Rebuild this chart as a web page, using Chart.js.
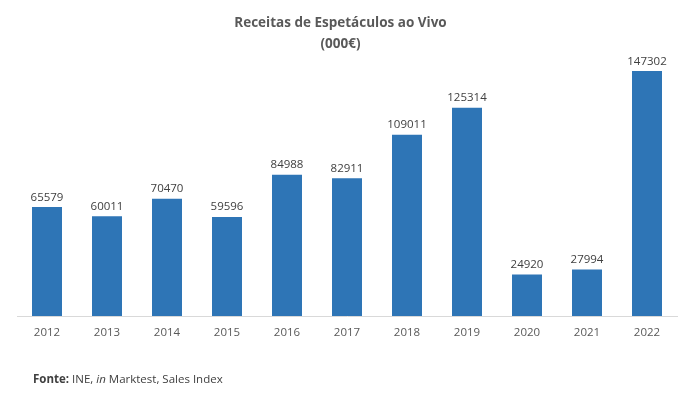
<!DOCTYPE html>
<html>
<head>
<meta charset="utf-8">
<script src="https://cdn.jsdelivr.net/npm/chart.js@4"></script>
<style>
  html, body { margin: 0; padding: 0; background: #fff; }
  #wrap { position: relative; width: 681px; height: 393px; }
  #title { position: absolute; left: 0; top: 12px; width: 681px; text-align: center;
           font-family: "Open Sans", sans-serif; font-weight: bold; font-size: 13.5px;
           line-height: 21px; color: #595959; }
  #foot { position: absolute; left: 33px; top: 371px; font-family: "Open Sans", sans-serif;
          font-size: 11.5px; color: #404040; white-space: nowrap; }
</style>
</head>
<body>
<div id="wrap">
  <canvas id="c" width="681" height="393"></canvas>
  <div id="title">Receitas de Espetáculos ao Vivo<br>(000€)</div>
  <div id="foot"><b>Fonte:</b> INE, <i>in</i> Marktest, Sales Index</div>
</div>
<script>
const years = ["2012","2013","2014","2015","2016","2017","2018","2019","2020","2021","2022"];
const revenues = [65579, 60011, 70470, 59596, 84988, 82911, 109011, 125314, 24920, 27994, 147302];
const yMax = 160000;

const labelPlugin = {
  id: 'barLabels',
  afterDatasetsDraw(chart) {
    const ctx = chart.ctx;
    const meta = chart.getDatasetMeta(0);
    ctx.save();
    ctx.font = '11.5px "Open Sans", sans-serif';
    ctx.fillStyle = '#404040';
    ctx.textAlign = 'center';
    ctx.textBaseline = 'bottom';
    meta.data.forEach((bar, i) => {
      ctx.fillText(String(chart.data.datasets[0].data[i]), bar.x, bar.y - 4);
    });
    ctx.restore();
  }
};

new Chart(document.getElementById('c'), {
  type: 'bar',
  data: {
    labels: years,
    datasets: [{
      data: revenues,
      backgroundColor: '#2E75B6',
      categoryPercentage: 1,
      barPercentage: 0.5
    }]
  },
  options: {
    responsive: false,
    animation: false,
    layout: { padding: { left: 17, right: 4, top: 50, bottom: 0 } },
    plugins: { legend: { display: false }, tooltip: { enabled: false }, title: { display: false } },
    scales: {
      y: { display: false, min: 0, max: yMax },
      x: {
        grid: { display: false, drawTicks: false },
        border: { display: true, color: '#d9d9d9', width: 1 },
        ticks: { color: '#595959', font: { family: '"Open Sans", sans-serif', size: 11.5 }, padding: 10, maxRotation: 0 },
        afterFit(scale) { scale.height = 77; }
      }
    }
  },
  plugins: [labelPlugin]
});
</script>
</body>
</html>
